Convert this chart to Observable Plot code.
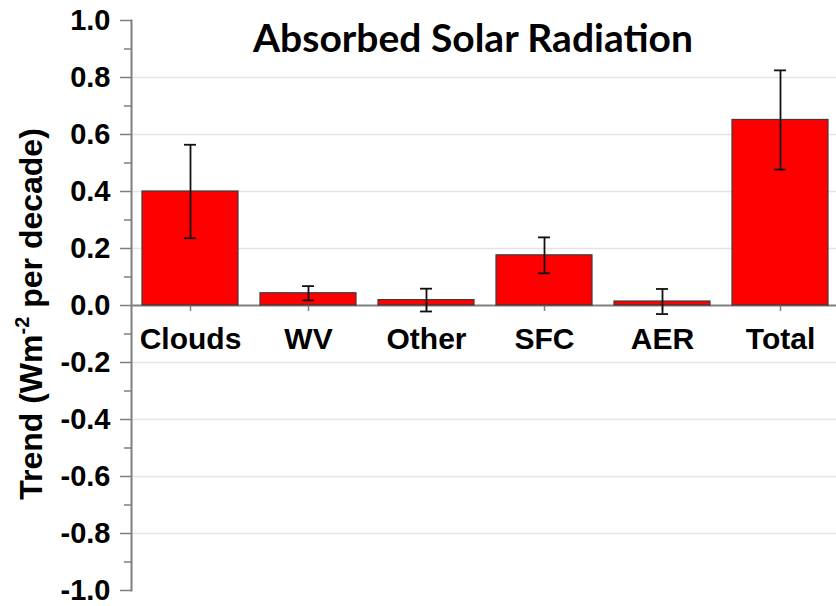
<!DOCTYPE html>
<html>
<head>
<meta charset="utf-8">
<script src="https://cdn.jsdelivr.net/npm/d3@7"></script>
<script src="https://cdn.jsdelivr.net/npm/@observablehq/plot@0.6"></script>
<style>
  body { margin: 0; background: #fff; }
  #chart svg { display: block; }
</style>
</head>
<body>
<div id="chart"></div>
<script>
// Decadal trends in absorbed solar radiation, by contributing factor
const categories = ["Clouds", "WV", "Other", "SFC", "AER", "Total"];
const trends = [0.40, 0.043, 0.019, 0.176, 0.014, 0.651];
const errors = [0.164, 0.025, 0.040, 0.063, 0.044, 0.174];

const majorTicks = [-1.0, -0.8, -0.6, -0.4, -0.2, 0.0, 0.2, 0.4, 0.6, 0.8, 1.0];
const minorTicks = [-0.9, -0.7, -0.5, -0.3, -0.1, 0.1, 0.3, 0.5, 0.7, 0.9];
const gridTicks = [-0.8, -0.6, -0.4, -0.2, 0.2, 0.4, 0.6, 0.8];

const title = "Absorbed Solar Radiation";

const data = categories.map((category, i) => ({category, trend: trends[i], err: errors[i]}));

const axisGray = "#7f7f7f";
const barFont = "'Liberation Sans', Arial, sans-serif";

const chart = Plot.plot({
  width: 836,
  height: 606,
  marginLeft: 131,
  marginRight: 0,
  marginTop: 20,
  marginBottom: 16,
  style: {
    fontFamily: barFont,
    fontWeight: "bold",
    fontSize: "30px",
    color: "#000",
    background: "#fff",
    overflow: "visible"
  },
  x: {domain: categories, range: [131, 839], paddingInner: 0.19, paddingOuter: 0.095, axis: null},
  y: {domain: [-1, 1], axis: null, label: null},
  marks: [
    Plot.gridY(gridTicks, {stroke: "#e4e4e4", strokeOpacity: 1, strokeWidth: 1.5}),
    Plot.axisY(minorTicks, {tickSize: 7, fill: "none", stroke: axisGray, strokeWidth: 1.5, label: null}),
    Plot.axisY(majorTicks, {
      tickSize: 11, tickPadding: 10, tickFormat: d => d.toFixed(1),
      stroke: axisGray, strokeWidth: 1.5, fill: "#000", fontSize: 29, label: null
    }),
    Plot.frame({anchor: "left", stroke: axisGray, strokeWidth: 2}),
    Plot.ruleY([0], {stroke: axisGray, strokeWidth: 2}),
    // small downward ticks under each category on the zero line
    Plot.ruleX(categories, {x: d => d, y1: 0, y2: 0, insetBottom: -6, stroke: axisGray, strokeWidth: 1.5}),
    Plot.barY(data, {x: "category", y: "trend", fill: "#ff0000", stroke: "#3c3c3c", strokeWidth: 1.2}),
    // error bars: whisker plus caps
    Plot.ruleX(data, {x: "category", y1: d => d.trend - d.err, y2: d => d.trend + d.err, stroke: "#111", strokeWidth: 1.8}),
    Plot.tickY(data, {x: "category", y: d => d.trend + d.err, insetLeft: 42, insetRight: 42, stroke: "#111", strokeWidth: 1.8}),
    Plot.tickY(data, {x: "category", y: d => d.trend - d.err, insetLeft: 42, insetRight: 42, stroke: "#111", strokeWidth: 1.8}),
    Plot.text(categories, {x: d => d, y: 0, text: d => d, dy: 34, fontSize: 30, fontWeight: "bold", fill: "#000"}),
    Plot.text([title], {
      text: d => d, frameAnchor: "top", dx: -11, dy: 4,
      fontFamily: "Lato, 'Open Sans', sans-serif", fontSize: 39, fontWeight: "bold", fill: "#000"
    })
  ]
});

document.getElementById("chart").appendChild(chart);

// Rotated y-axis title with a superscript exponent
const svg = d3.select(chart);
const ylab = svg.append("text")
  .attr("transform", "translate(42,314) rotate(-90)")
  .attr("text-anchor", "middle")
  .attr("font-family", barFont)
  .attr("font-weight", "bold")
  .attr("font-size", 32)
  .attr("fill", "#000");
ylab.append("tspan").text("Trend (Wm");
ylab.append("tspan").attr("dy", -13).attr("font-size", 20).text("-2");
ylab.append("tspan").attr("dy", 13).text(" per decade)");
</script>
</body>
</html>
